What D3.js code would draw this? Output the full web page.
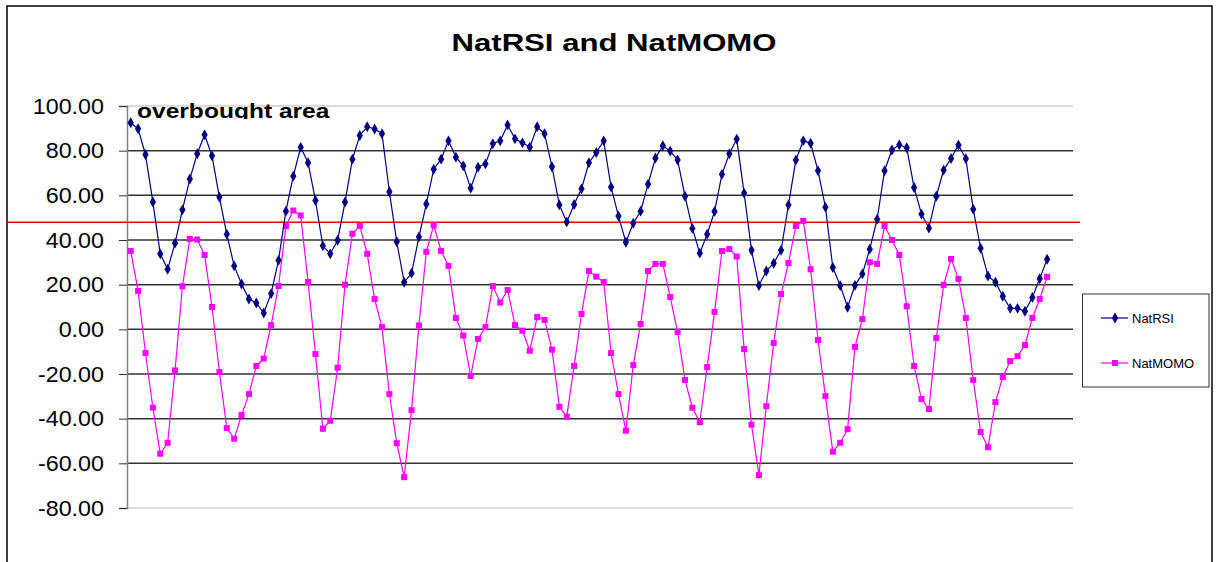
<!DOCTYPE html>
<html>
<head>
<meta charset="utf-8">
<script src="https://cdnjs.cloudflare.com/ajax/libs/d3/7.8.5/d3.min.js"></script>
<style>
  body { margin: 0; background: #fff; }
  svg { display: block; font-family: Arial, "Liberation Sans", sans-serif; }
</style>
</head>
<body>
<div id="chart"></div>
<script>
// series values, one per period
var natRSI = [92.5, 89.8, 78.3, 57.0, 33.8, 26.9, 38.6, 53.5, 67.3, 78.6,
  87.1, 77.7, 59.2, 42.6, 28.4, 20.3, 13.6, 11.8, 7.3, 16.0,
  30.9, 52.9, 68.6, 81.5, 74.6, 57.7, 37.4, 33.8, 39.9, 57.0,
  76.2, 86.8, 90.7, 89.7, 87.6, 61.6, 39.2, 21.1, 25.1, 41.4,
  56.1, 71.7, 76.2, 84.4, 77.1, 73.2, 63.2, 72.6, 74.1, 83.1,
  84.4, 91.5, 85.3, 83.5, 81.6, 90.7, 87.6, 72.8, 55.7, 48.1,
  55.9, 62.9, 74.6, 79.2, 84.4, 63.7, 50.7, 39.0, 47.5, 52.9,
  65.0, 76.7, 82.2, 79.8, 75.8, 59.6, 45.2, 34.1, 42.6, 52.8,
  69.4, 78.6, 85.2, 61.0, 35.4, 19.6, 26.1, 29.6, 35.4, 55.7,
  75.8, 84.4, 83.3, 71.0, 54.7, 27.7, 19.6, 9.9, 19.7, 24.8,
  35.9, 49.3, 71.0, 80.3, 82.6, 81.3, 63.5, 51.6, 45.3, 59.6,
  71.3, 76.5, 82.5, 76.4, 53.8, 36.3, 23.9, 21.1, 14.8, 9.4,
  9.4, 8.1, 14.3, 22.7, 31.4];

var natMOMO = [35.1, 17.2, -10.6, -35.1, -55.7, -50.8, -18.4, 19.3, 40.5, 40.2,
  33.3, 10.0, -19.1, -44.2, -49.0, -38.4, -29.0, -16.4, -13.1, 1.9,
  19.4, 46.2, 53.2, 51.0, 21.2, -11.1, -44.5, -40.9, -17.2, 20.0,
  42.8, 46.3, 33.8, 13.6, 1.0, -29.0, -51.0, -66.2, -36.2, 1.8,
  34.7, 46.6, 35.1, 28.4, 5.1, -2.8, -20.9, -4.3, 1.0, 19.4,
  12.0, 17.6, 1.9, -0.6, -9.6, 5.5, 4.2, -9.1, -34.7, -39.1,
  -16.4, 6.9, 26.1, 23.6, 21.2, -10.6, -29.0, -45.4, -16.0, 2.4,
  26.1, 29.3, 29.3, 14.5, -1.2, -22.7, -35.1, -41.6, -16.9, 7.8,
  35.1, 36.0, 32.6, -8.8, -42.7, -65.3, -34.4, -6.1, 15.8, 29.7,
  46.3, 48.6, 26.9, -4.8, -29.9, -54.8, -50.8, -44.7, -7.9, 4.6,
  30.0, 29.3, 46.3, 40.0, 33.3, 10.3, -16.4, -31.2, -35.7, -3.9,
  19.9, 31.5, 22.6, 5.1, -22.7, -46.0, -52.8, -32.6, -21.4, -14.2,
  -12.0, -7.0, 5.1, 13.6, 23.5];

var seriesNames = ["NatRSI", "NatMOMO"];
var yTicks = [100, 80, 60, 40, 20, 0, -20, -40, -60, -80];
var slotCount = 128;      // category slots on the x axis (last few empty)
var overbought = 48;      // red reference line

var width = 1216, height = 562;
var plot = {left: 127, right: 1073, top: 106, bottom: 508};

var svg = d3.select("#chart").append("svg")
    .attr("width", width)
    .attr("height", height);

// outer chart frame
svg.append("rect")
    .attr("x", 7).attr("y", 6)
    .attr("width", 1205).attr("height", 600)
    .attr("fill", "#fff")
    .attr("stroke", "#000")
    .attr("stroke-width", 1.5);

var x = d3.scaleLinear().domain([0.5, slotCount + 0.5]).range([plot.left, plot.right]);
var y = d3.scaleLinear().domain([-80, 100]).range([plot.bottom, plot.top]);

// gridlines
svg.append("g").selectAll("line")
    .data(yTicks)
    .enter().append("line")
    .attr("x1", plot.left).attr("x2", plot.right)
    .attr("y1", function(d){ return y(d); })
    .attr("y2", function(d){ return y(d); })
    .attr("stroke", function(d){ return (d === 100 || d === -80) ? "#cfcfcf" : "#333"; })
    .attr("stroke-width", 1.5);

// y axis, plain hyphen for negatives like the original
var fmt = d3.formatLocale({decimal: ".", thousands: ",", grouping: [3], currency: ["", ""], minus: "-"}).format(".2f");
var yAxis = d3.axisLeft(y)
    .tickValues(yTicks)
    .tickFormat(fmt)
    .tickSize(8);

var gy = svg.append("g")
    .attr("transform", "translate(" + plot.left + ",0)")
    .call(yAxis);
gy.select(".domain").attr("stroke", "#808080").attr("stroke-width", 1.5);
gy.selectAll(".tick line").attr("stroke", "#333");
gy.selectAll(".tick text")
    .attr("x", 0)
    .attr("transform", "translate(-23,0) scale(1.06,1)")
    .attr("fill", "#000")
    .style("font-size", "22px")
    .style("font-family", "Arial, 'Liberation Sans', sans-serif");

// red overbought line
svg.append("line")
    .attr("x1", 8).attr("x2", 1080)
    .attr("y1", y(overbought)).attr("y2", y(overbought))
    .attr("stroke", "#ff0000")
    .attr("stroke-width", 1.5);

// series
var line = d3.line()
    .x(function(d, i){ return x(i + 1); })
    .y(function(d){ return y(d); });

svg.append("path")
    .datum(natMOMO)
    .attr("d", line)
    .attr("fill", "none")
    .attr("stroke", "#ff00ff")
    .attr("stroke-width", 1.2);

svg.append("g").selectAll("rect")
    .data(natMOMO)
    .enter().append("rect")
    .attr("x", function(d, i){ return x(i + 1) - 3; })
    .attr("y", function(d){ return y(d) - 3; })
    .attr("width", 6).attr("height", 6)
    .attr("fill", "#ff00ff");

svg.append("path")
    .datum(natRSI)
    .attr("d", line)
    .attr("fill", "none")
    .attr("stroke", "#000080")
    .attr("stroke-width", 1.2);

var diamond = d3.symbol().type(d3.symbolDiamond).size(34);
svg.append("g").selectAll("path")
    .data(natRSI)
    .enter().append("path")
    .attr("d", diamond)
    .attr("transform", function(d, i){ return "translate(" + x(i + 1) + "," + y(d) + ")"; })
    .attr("fill", "#000080");

// title (the original picture is stretched sideways a little)
svg.append("text")
    .attr("transform", "translate(614,51) scale(1.27,1)")
    .attr("text-anchor", "middle")
    .style("font-size", "24.5px")
    .style("font-weight", "bold")
    .text("NatRSI and NatMOMO");

// "overbought area" label, clipped at the bottom like the original text box
svg.append("clipPath").attr("id", "obclip")
    .append("rect").attr("x", 130).attr("y", 90).attr("width", 240).attr("height", 29);
svg.append("g")
    .attr("clip-path", "url(#obclip)")
  .append("text")
    .attr("transform", "translate(137,117.5) scale(1.17,1)")
    .style("font-size", "21px")
    .style("font-weight", "bold")
    .text("overbought area");

// legend
var legend = svg.append("g");
legend.append("rect")
    .attr("x", 1082.5).attr("y", 294)
    .attr("width", 126.5).attr("height", 93)
    .attr("fill", "#fff")
    .attr("stroke", "#333")
    .attr("stroke-width", 1);

var legendRows = legend.selectAll("g.row")
    .data(seriesNames)
    .enter().append("g")
    .attr("class", "row")
    .attr("transform", function(d, i){ return "translate(0," + (318 + i * 45) + ")"; });

legendRows.append("line")
    .attr("x1", 1101).attr("x2", 1128)
    .attr("stroke", function(d, i){ return i === 0 ? "#000080" : "#ff00ff"; })
    .attr("stroke-width", 1.2);

legendRows.append("path")
    .attr("d", function(d, i){
      return i === 0 ? diamond() : d3.symbol().type(d3.symbolSquare).size(36)();
    })
    .attr("transform", "translate(1115,0)")
    .attr("fill", function(d, i){ return i === 0 ? "#000080" : "#ff00ff"; });

legendRows.append("text")
    .attr("x", 1132).attr("y", 4.5)
    .style("font-size", "13px")
    .text(function(d){ return d; });
</script>
</body>
</html>
